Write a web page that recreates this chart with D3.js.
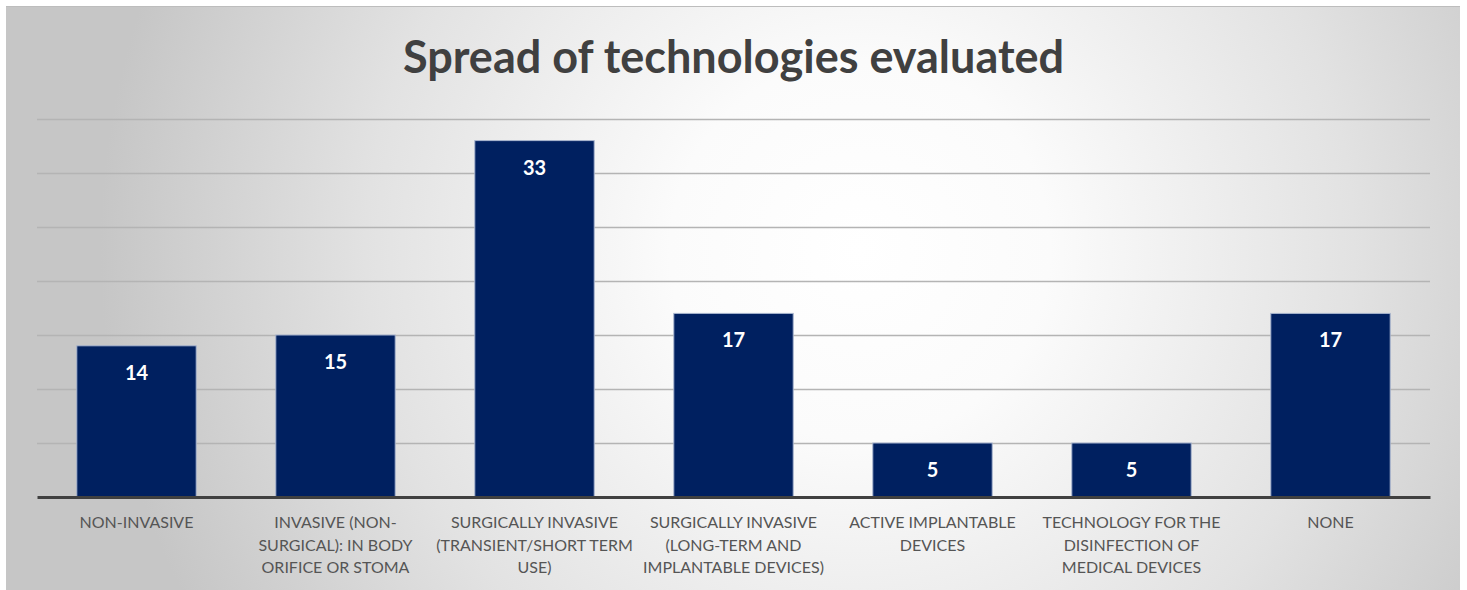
<!DOCTYPE html>
<html>
<head>
<meta charset="utf-8">
<script src="https://cdn.jsdelivr.net/npm/d3@7"></script>
<style>
  html, body { margin: 0; padding: 0; background: #ffffff; }
  svg { display: block; }
</style>
</head>
<body>
<svg id="chart" width="1467" height="590"></svg>
<script>
// Chart data
const title = "Spread of technologies evaluated";
const categories = [
  "NON-INVASIVE",
  "INVASIVE (NON-\nSURGICAL): IN BODY\nORIFICE OR STOMA",
  "SURGICALLY INVASIVE\n(TRANSIENT/SHORT TERM\nUSE)",
  "SURGICALLY INVASIVE\n(LONG-TERM AND\nIMPLANTABLE DEVICES)",
  "ACTIVE IMPLANTABLE\nDEVICES",
  "TECHNOLOGY FOR THE\nDISINFECTION OF\nMEDICAL DEVICES",
  "NONE"
];
const values = [14, 15, 33, 17, 5, 5, 17];
const gridTicks = [0, 5, 10, 15, 20, 25, 30, 35];

const svg = d3.select("#chart");
const frame = { x: 6, y: 6, w: 1454, h: 584 };
const plot = { left: 37, right: 1430, top: 119, bottom: 497 };

// Background: soft radial gradient, bright in the middle, grey toward the edges
const defs = svg.append("defs");
const grad = defs.append("radialGradient")
  .attr("id", "bg")
  .attr("gradientUnits", "userSpaceOnUse")
  .attr("cx", 860).attr("cy", 250).attr("r", 760)
  .attr("fx", 860).attr("fy", 250);
grad.append("stop").attr("offset", "0%").attr("stop-color", "#ffffff");
grad.append("stop").attr("offset", "25%").attr("stop-color", "#fbfbfb");
grad.append("stop").attr("offset", "65%").attr("stop-color", "#e2e2e2");
grad.append("stop").attr("offset", "100%").attr("stop-color", "#c6c6c6");

svg.append("rect")
  .attr("x", frame.x).attr("y", frame.y)
  .attr("width", frame.w).attr("height", frame.h)
  .attr("fill", "url(#bg)");
svg.append("line")
  .attr("x1", frame.x).attr("x2", frame.x + frame.w)
  .attr("y1", frame.y + 0.5).attr("y2", frame.y + 0.5)
  .attr("stroke", "#bdbdbd").attr("stroke-width", 1);

// Scales
const x = d3.scaleBand()
  .domain(categories)
  .range([plot.left, plot.right])
  .paddingInner(0.4)
  .paddingOuter(0.2);

const y = d3.scaleLinear()
  .domain([0, 35])
  .range([plot.bottom, plot.top]);

// Horizontal gridlines via a y axis with full-width ticks
const gridAxis = d3.axisLeft(y)
  .tickValues(gridTicks.filter(t => t > 0))
  .tickSize(-(plot.right - plot.left))
  .tickFormat("");
const grid = svg.append("g")
  .attr("transform", `translate(${plot.left},0)`)
  .call(gridAxis);
grid.select(".domain").remove();
grid.selectAll(".tick line")
  .attr("stroke", "#b4b4b4")
  .attr("stroke-width", 1.3);

// Bars
svg.append("g").selectAll("rect")
  .data(values)
  .join("rect")
  .attr("x", (d, i) => x(categories[i]))
  .attr("y", d => y(d))
  .attr("width", x.bandwidth())
  .attr("height", d => y(0) - y(d))
  .attr("fill", "#002060")
  .attr("stroke", "#a9b6cf")
  .attr("stroke-width", 1);

// Value labels inside the top of each bar
svg.append("g").selectAll("text")
  .data(values)
  .join("text")
  .attr("x", (d, i) => x(categories[i]) + x.bandwidth() / 2)
  .attr("y", d => y(d) + 34)
  .attr("text-anchor", "middle")
  .attr("font-family", "Lato, 'Open Sans', sans-serif")
  .attr("font-weight", "bold")
  .attr("font-size", 20)
  .attr("fill", "#ffffff")
  .text(d => d);

// Category axis along the baseline
const xAxis = d3.axisBottom(x).tickSize(0).tickFormat("");
const xg = svg.append("g")
  .attr("transform", `translate(0,${plot.bottom})`)
  .call(xAxis);
xg.select(".domain")
  .attr("stroke", "#404040")
  .attr("stroke-width", 3);

// Wrapped category labels
const labels = svg.append("g").selectAll("text")
  .data(categories)
  .join("text")
  .attr("x", d => x(d) + x.bandwidth() / 2)
  .attr("y", 528)
  .attr("text-anchor", "middle")
  .attr("font-family", "Lato, 'Open Sans', sans-serif")
  .attr("font-size", 16)
  .attr("fill", "#555555");
labels.each(function (d) {
  const t = d3.select(this);
  d.split("\n").forEach((line, i) => {
    t.append("tspan")
      .attr("x", t.attr("x"))
      .attr("dy", i === 0 ? 0 : 22.5)
      .text(line);
  });
});

// Title
svg.append("text")
  .attr("x", (plot.left + plot.right) / 2)
  .attr("y", 73)
  .attr("text-anchor", "middle")
  .attr("font-family", "Lato, 'Open Sans', sans-serif")
  .attr("font-weight", "bold")
  .attr("font-size", 45)
  .attr("fill", "#404040")
  .text(title);
</script>
</body>
</html>
